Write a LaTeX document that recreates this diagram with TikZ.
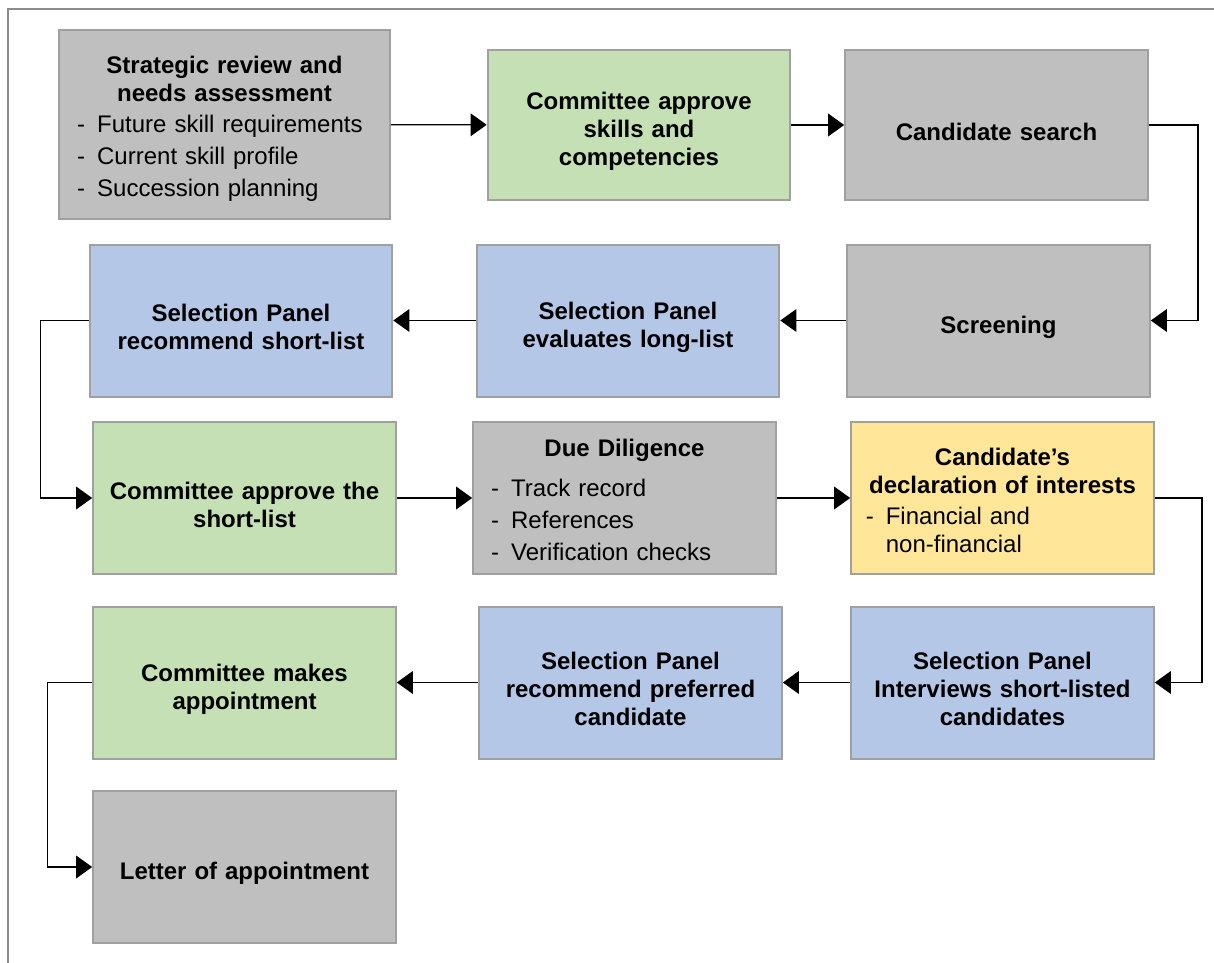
\documentclass[tikz,border=0pt]{standalone}
\usepackage{fontspec}
\setmainfont{Liberation Sans}
\usetikzlibrary{arrows.meta,positioning}
\definecolor{boxgray}{HTML}{BFBFBF}
\definecolor{boxgreen}{HTML}{C5E0B4}
\definecolor{boxblue}{HTML}{B4C7E7}
\definecolor{boxyellow}{HTML}{FFE699}
\definecolor{boxline}{HTML}{A0A0A0}
\definecolor{frameline}{HTML}{8C8C8C}
\tikzset{
  stage/.style={
    draw = boxline,
    line width = 1.5pt,
    minimum width = 227pt,
    minimum height = 114pt,
    inner sep = 0pt,
    text width = 210pt,
    align = center,
    font = \fontsize{18}{21}\selectfont\bfseries,
    execute at begin node = {\rule{0pt}{23pt}}
  },
  flow/.style={
    line width = 1pt,
    -{Triangle[length=12pt, width=17pt]}
  },
}
\newcommand{\steplist}[2][24]{%
  \makebox[\hsize][l]{\normalfont\fontsize{18}{#1}\selectfont
  \begin{tabular}{@{}l@{\hspace{9pt}}l@{}}#2\end{tabular}}}

\begin{document}
\begin{tikzpicture}[x=0.75pt, y=-0.75pt]
    \useasboundingbox (0,0) rectangle (1214,963);
    \draw[frameline, line width=1.2pt] (8,9) rectangle (1240,990);
    % row 1
    \node[stage, fill=boxgray, minimum width=248pt, minimum height=142pt,
      text width=221pt] (review) at (224.5,124.5)
      {Strategic review and\\needs assessment\\[5pt]
       \steplist{- & Future skill requirements\\
                 - & Current skill profile\\
                 - & Succession planning}};
    \node[stage, fill=boxgreen, minimum height=112pt] (skills) at (639,125)
      {Committee approve\\skills and\\competencies};
    \node[stage, fill=boxgray, minimum height=112pt] (search) at (996.5,125)
      {Candidate search};
    % row 2
    \node[stage, fill=boxgray] (screen) at (998.5,320.5) {Screening};
    \node[stage, fill=boxblue] (longlist) at (628,320.5)
      {Selection Panel\\evaluates long-list};
    \node[stage, fill=boxblue] (shortlist) at (241,320.5)
      {Selection Panel\\recommend short-list};
    % row 3
    \node[stage, fill=boxgreen] (approve) at (244.5,498)
      {Committee approve the\\short-list};
    \node[stage, fill=boxgray, text width=200pt] (diligence) at (624.5,498)
      {Due Diligence\\[9pt]
       \steplist{- & Track record\\
                 - & References\\
                 - & Verification checks}};
    \node[stage, fill=boxyellow, text width=205pt] (declare) at (1002.5,498)
      {Candidate’s\\declaration of interests\\[7pt]
       \steplist[21]{- & Financial and\\
                       & non-financial}};
    % row 4
    \node[stage, fill=boxblue] (interview) at (1002.5,682.5)
      {Selection Panel\\Interviews short-listed\\candidates};
    \node[stage, fill=boxblue] (preferred) at (630.5,682.5)
      {Selection Panel\\recommend preferred\\candidate};
    \node[stage, fill=boxgreen] (appoint) at (244.5,682.5)
      {Committee makes\\appointment};
    % row 5
    \node[stage, fill=boxgray] (letter) at (244.5,867) {Letter of appointment};
    % connectors
    \foreach \a/\b in {review/skills, skills/search, screen/longlist,
      longlist/shortlist, approve/diligence, diligence/declare,
      interview/preferred, preferred/appoint}{
      \draw[flow] (\a) -- (\b);
    }
    \draw[flow] (search.east) -- ++(49,0) |- (screen.east);
    \draw[flow] (shortlist.west) -- ++(-48,0) |- (approve.west);
    \draw[flow] (declare.east) -- ++(47,0) |- (interview.east);
    \draw[flow] (appoint.west) -- ++(-45,0) |- (letter.west);
\end{tikzpicture}
\end{document}
